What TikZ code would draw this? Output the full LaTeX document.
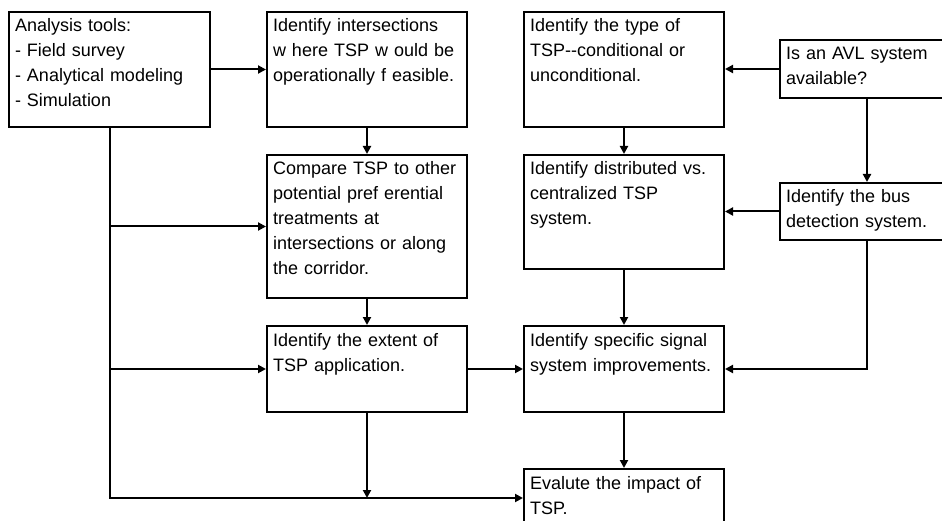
\documentclass[tikz,border=0pt]{standalone}
\usepackage{fontspec}
\setmainfont{Liberation Sans}
\usetikzlibrary{arrows.meta}

\begin{document}
\begin{tikzpicture}[x=1pt,y=-1pt,
        procbox/.style={draw, line width=2pt, anchor=north west, align=left,
            inner xsep=6pt, inner ysep=6pt, text width=188pt, text height=14pt, text depth=#1,
            font=\fontsize{18}{25}\selectfont},
        link/.style={line width=2pt, -{Triangle[length=8pt,width=8pt]}}]
        \useasboundingbox (0,0) rectangle (942,521);
        % 左の列
        \node[procbox=89pt, text width=189pt] (tools) at (8,11)
            {Analysis tools:\\- Field survey\\- Analytical modeling\\- Simulation};
        % 中央の列
        \node[procbox=89pt] (feasible) at (266,11)
            {Identify intersections\\w here TSP w ould be\\operationally f easible.};
        \node[procbox=117pt] (compare) at (266,154)
            {Compare TSP to other\\potential pref erential\\treatments at\\intersections or along\\the corridor.};
        \node[procbox=60pt] (extent) at (266,325)
            {Identify the extent of\\TSP application.};
        % 右の列
        \node[procbox=89pt] (type) at (523,11)
            {Identify the type of\\TSP-{}-conditional or\\unconditional.};
        \node[procbox=88pt] (distributed) at (523,154)
            {Identify distributed vs.\\centralized TSP\\system.};
        \node[procbox=60pt] (signal) at (523,325)
            {Identify specific signal\\system improvements.};
        \node[procbox=32pt] (evaluate) at (523,468)
            {Evalute the impact of\\TSP.};
        % 右端
        \node[procbox=32pt, text width=162pt] (avl) at (779,39)
            {Is an AVL system\\available?};
        \node[procbox=31pt, text width=162pt] (detection) at (779,182)
            {Identify the bus\\detection system.};
        % 矢印
        \draw[link] (tools.east) -- (tools.east -| feasible.west);
        \draw[link] (feasible.south) -- (compare.north);
        \draw[link] (compare.south) -- (extent.north);
        \draw[link] (tools.south) |- (evaluate.west);
        \draw[link] (tools.south |- compare.west) -- (compare.west);
        \draw[link] (tools.south |- extent.west) -- (extent.west);
        \draw[link] (extent.south) -- (extent.south |- evaluate.west);
        \draw[link] (extent.east) -- (signal.west);
        \draw[link] (avl.west) -- (avl.west -| type.east);
        \draw[link] (type.south) -- (distributed.north);
        \draw[link] (avl.south) -- (detection.north);
        \draw[link] (detection.west) -- (detection.west -| distributed.east);
        \draw[link] (distributed.south) -- (signal.north);
        \draw[link] (detection.south) |- (signal.east);
        \draw[link] (signal.south) -- (evaluate.north);
    \end{tikzpicture}
\end{document}
